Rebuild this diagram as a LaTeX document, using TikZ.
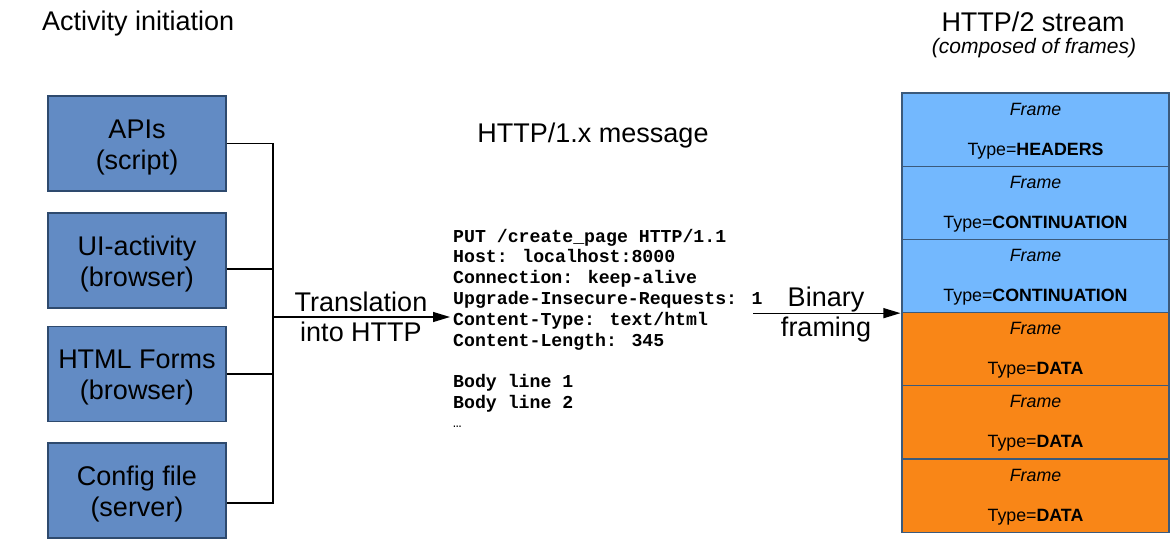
\documentclass[tikz,border=0pt]{standalone}
\usepackage{fontspec}
\setmainfont{Liberation Sans}
\newfontfamily\codefont{Liberation Mono}
\usetikzlibrary{arrows.meta}
\definecolor{boxblue}{HTML}{628BC4}
\definecolor{boxline}{HTML}{2E4A6E}
\definecolor{frameblue}{HTML}{73B8FE}
\definecolor{frameorange}{HTML}{F98617}
\definecolor{frameline}{HTML}{3B5A7C}
\begin{document}
\begin{tikzpicture}[x=1pt,y=-1pt,
  srcbox/.style={draw=boxline, fill=boxblue, line width=1.3pt, minimum width=178pt, minimum height=95pt, inner sep=0pt},
  boxtxt/.style={align=center, inner sep=0pt, font=\fontsize{27}{31}\selectfont},
  conn/.style={draw=black, line width=1.2pt},
  arr/.style={draw=black, line width=1.2pt, -{Triangle[length=17pt,width=10pt]}},
  lbl/.style={align=center, inner sep=0pt, font=\fontsize{27}{30}\selectfont},
  code/.style={anchor=base west, inner sep=0pt, font=\codefont\bfseries\fontsize{18.2}{20.8}\selectfont},
  framebox/.style={draw=frameline, line width=1.1pt, minimum width=267pt, minimum height=73.2pt, inner sep=0pt},
  ftxt/.style={anchor=base, inner sep=0pt, font=\fontsize{17.8}{20}\selectfont},
  title/.style={inner sep=0pt, font=\fontsize{27}{31}\selectfont}
]
\useasboundingbox (0,0) rectangle (1174,538);

% titles
\node[title, anchor=base west] (t1) at (42,30) {Activity initiation};
\node[title, anchor=base] (t2) at (593,142) {HTTP/1.x message};
\node[title, anchor=base] (t3) at (1033,31) {HTTP/2 stream};
\node[title, anchor=base, font=\fontsize{21}{24}\selectfont\itshape] (t4) at (1034,53) {(composed of frames)};

% source boxes
\node[srcbox] (b1) at (137,143.5) {};
\node[srcbox] (b2) at (137,260.5) {};
\node[srcbox] (b3) at (137,374) {};
\node[srcbox] (b4) at (137,490.5) {};
\node[boxtxt] (b1t) at ([yshift=-4pt]b1.center) {APIs\\(script)};
\node[boxtxt] (b2t) at ([yshift=-4pt]b2.center) {UI-activity\\(browser)};
\node[boxtxt] (b3t) at ([yshift=-4pt]b3.center) {HTML Forms\\(browser)};
\node[boxtxt] (b4t) at ([yshift=-4pt]b4.center) {Config file\\(server)};

% message lines
\node[code] (m1) at (453,242) {PUT /create\_page HTTP/1.1};
\node[code] (m2) at (453,262.8) {Host: localhost:8000};
\node[code] (m3) at (453,283.6) {Connection: keep-alive};
\node[code] (m4) at (453,304.4) {Upgrade-Insecure-Requests: 1};
\node[code] (m5) at (453,325.2) {Content-Type: text/html};
\node[code] (m6) at (453,346) {Content-Length: 345};
\node[code] (m7) at (453,387.6) {Body line 1};
\node[code] (m8) at (453,408.4) {Body line 2};
\node[code, font=\codefont\fontsize{14}{16}\selectfont] (m9) at (453,427) {…};

% bus connectors
\coordinate (jx) at (273,317);
\coordinate (p2) at ([yshift=-8.5pt]b2.east);
\coordinate (p4) at ([yshift=-12.5pt]b4.east);
\draw[conn] (b1.east) -- (b1.east -| jx) -- (p4 -| jx) -- (p4);
\draw[conn] (p2) -- (p2 -| jx);
\draw[conn] (b3.east) -- (b3.east -| jx);
\draw[arr, shorten >=3pt] (jx) -- (jx -| m5.west);
\node[lbl] (tl) at (361,317) {Translation\\into HTTP};

% frames
\foreach \i/\c/\t in {1/frameblue/HEADERS, 2/frameblue/CONTINUATION, 3/frameblue/CONTINUATION, 4/frameorange/DATA, 5/frameorange/DATA, 6/frameorange/DATA} {
  \node[framebox, fill=\c] (f\i) at (1035.5,{129.6+(\i-1)*73.2}) {};
  \node[ftxt] (fa\i) at ([yshift=-22.7pt]f\i.north) {\itshape Frame};
  \node[ftxt] (fb\i) at ([yshift=-62.7pt]f\i.north) {Type=\textbf{\t}};
}

% binary framing arrow
\coordinate (bs) at (753,0);
\draw[arr, shorten >=1pt] (bs |- f3.south west) -- (f3.south west);
\node[lbl] (bf) at (826,315) {Binary\\framing};
\end{tikzpicture}
\end{document}
